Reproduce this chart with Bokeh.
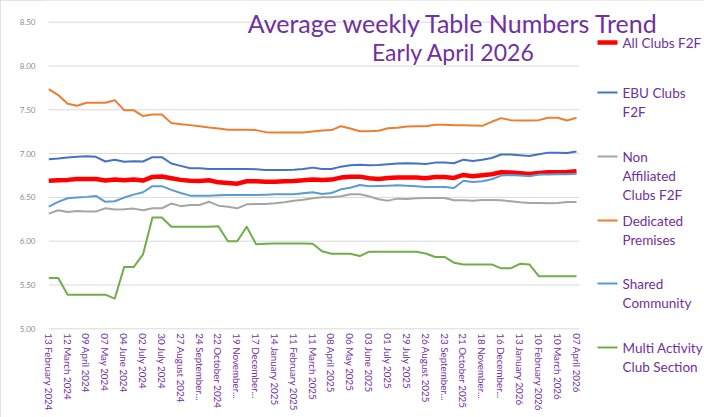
import math
from bokeh.plotting import figure
from bokeh.models import Range1d, FixedTicker, Label, BoxAnnotation, NumeralTickFormatter
from bokeh.core.properties import value
from bokeh.embed import file_html
from bokeh.resources import INLINE

# ---------------- data (fortnightly points, 13 Feb 2024 .. 07 Apr 2026) ----------------
tick_labels = ["13 February 2024", "12 March 2024", "09 April 2024", "07 May 2024", "04 June 2024",
               "02 July 2024", "30 July 2024", "27 August 2024", "24 September...", "22 October 2024",
               "19 November...", "17 December...", "14 January 2025", "11 February 2025", "11 March 2025",
               "08 April 2025", "06 May 2025", "03 June 2025", "01 July 2025", "29 July 2025",
               "26 August 2025", "23 September...", "21 October 2025", "18 November...", "16 December...",
               "13 January 2026", "10 February 2026", "10 March 2026", "07 April 2026"]

all_clubs = [6.689, 6.696, 6.700, 6.711, 6.711, 6.711, 6.692, 6.704, 6.696, 6.704, 6.692, 6.734, 6.738, 6.719, 6.700,
             6.691, 6.688, 6.695, 6.672, 6.665, 6.657, 6.684, 6.684, 6.680, 6.680, 6.684, 6.688, 6.695, 6.705,
             6.700, 6.703, 6.726, 6.737, 6.737, 6.718, 6.710, 6.722, 6.726, 6.726, 6.726, 6.718, 6.733, 6.733,
             6.722, 6.756, 6.741, 6.752, 6.764, 6.787, 6.783, 6.775, 6.768, 6.779, 6.787, 6.787, 6.790, 6.798]

ebu_clubs = [6.936, 6.944, 6.955, 6.963, 6.970, 6.963, 6.910, 6.930, 6.906, 6.913, 6.910, 6.959, 6.959, 6.887, 6.860,
             6.832, 6.832, 6.825, 6.825, 6.825, 6.825, 6.825, 6.820, 6.813, 6.813, 6.813, 6.815, 6.825, 6.840,
             6.825, 6.825, 6.851, 6.867, 6.874, 6.867, 6.870, 6.878, 6.886, 6.890, 6.886, 6.882, 6.897, 6.897,
             6.890, 6.931, 6.916, 6.931, 6.950, 6.989, 6.989, 6.981, 6.973, 6.992, 7.011, 7.011, 7.008, 7.023]

non_affiliated = [6.315, 6.353, 6.334, 6.345, 6.338, 6.338, 6.376, 6.361, 6.365, 6.372, 6.353, 6.376, 6.376, 6.430, 6.400,
                  6.413, 6.413, 6.451, 6.406, 6.394, 6.375, 6.421, 6.425, 6.425, 6.432, 6.444, 6.463, 6.474, 6.490,
                  6.501, 6.501, 6.512, 6.535, 6.535, 6.512, 6.478, 6.463, 6.486, 6.482, 6.490, 6.493, 6.493, 6.493,
                  6.467, 6.467, 6.463, 6.470, 6.470, 6.467, 6.455, 6.444, 6.436, 6.436, 6.432, 6.436, 6.448, 6.448]

dedicated = [7.736, 7.668, 7.569, 7.546, 7.580, 7.580, 7.580, 7.610, 7.496, 7.496, 7.428, 7.447, 7.447, 7.348, 7.336,
             7.325, 7.313, 7.298, 7.287, 7.271, 7.271, 7.271, 7.268, 7.245, 7.241, 7.241, 7.241, 7.241, 7.252,
             7.264, 7.268, 7.313, 7.287, 7.256, 7.256, 7.260, 7.290, 7.294, 7.310, 7.313, 7.313, 7.329, 7.329,
             7.325, 7.325, 7.321, 7.317, 7.363, 7.405, 7.382, 7.378, 7.378, 7.382, 7.409, 7.409, 7.378, 7.409]

shared = [6.395, 6.449, 6.490, 6.500, 6.506, 6.517, 6.449, 6.456, 6.498, 6.532, 6.559, 6.628, 6.628, 6.586, 6.550,
          6.520, 6.520, 6.520, 6.524, 6.528, 6.528, 6.528, 6.528, 6.531, 6.535, 6.535, 6.535, 6.547, 6.558,
          6.539, 6.550, 6.592, 6.611, 6.642, 6.627, 6.630, 6.634, 6.638, 6.634, 6.627, 6.619, 6.619, 6.619,
          6.608, 6.691, 6.676, 6.684, 6.707, 6.749, 6.756, 6.749, 6.741, 6.760, 6.760, 6.764, 6.764, 6.771]

multi_activity = [5.580, 5.580, 5.390, 5.390, 5.390, 5.390, 5.390, 5.345, 5.705, 5.705, 5.850, 6.270, 6.270, 6.165, 6.165,
                  6.165, 6.165, 6.165, 6.170, 6.000, 6.000, 6.165, 5.965, 5.970, 5.975, 5.975, 5.975, 5.975, 5.970,
                  5.885, 5.857, 5.857, 5.857, 5.830, 5.880, 5.880, 5.880, 5.880, 5.880, 5.880, 5.860, 5.820, 5.820,
                  5.755, 5.735, 5.735, 5.735, 5.735, 5.690, 5.690, 5.742, 5.735, 5.600, 5.600, 5.600, 5.600, 5.600]

series_names = [["All Clubs F2F"], ["EBU Clubs", "F2F"], ["Non", "Affiliated", "Clubs F2F"],
                ["Dedicated", "Premises"], ["Shared", "Community"], ["Multi Activity", "Club Section"]]
series_values = [all_clubs, ebu_clubs, non_affiliated, dedicated, shared, multi_activity]
series_colors = ["#FF0000", "#4472C4", "#A5A5A5", "#ED7D31", "#5B9BD5", "#70AD47"]
series_widths = [4.5, 2, 2, 2, 2, 2]

y_ticks = [5.0, 5.5, 6.0, 6.5, 7.0, 7.5, 8.0, 8.5]
title_lines = ["Average weekly Table Numbers Trend", "Early April 2026"]

x_idx = list(range(len(all_clubs)))
x_ticks = list(range(0, len(all_clubs), 2))

# ---------------- figure / pixel mapping ----------------
W, H = 704, 417
BL = 42
PXX = (576.0 - 48.3) / 56          # px per fortnight
PXY = (328.3 - 21.7) / 3.5         # px per table
X0 = (BL - 48.3) / PXX
X1 = X0 + (W - BL) / PXX
Y1 = 8.5 + 21.7 / PXY
Y0 = Y1 - H / PXY

p = figure(width=W, height=H, output_backend="svg", toolbar_location=None,
           x_range=Range1d(X0, X1), y_range=Range1d(Y0, Y1),
           min_border_left=BL, min_border_right=0, min_border_top=0, min_border_bottom=0,
           x_axis_location=None, styles={"outline": "1px solid #D9D9D9", "outline-offset": "-1px"})
p.background_fill_color = "white"
p.border_fill_color = "white"
p.outline_line_color = None
p.xgrid.visible = False
p.ygrid.visible = False


def fx(px):
    return X0 + (px - BL) / PXX


def fy(py):
    return Y1 - py / PXY


PURPLE = "#7030A0"
FONT = "Lato"

# y axis
p.yaxis.ticker = FixedTicker(ticks=y_ticks)
p.yaxis.formatter = NumeralTickFormatter(format="0.00")
p.yaxis.major_label_text_color = "#8C8C8C"
p.yaxis.major_label_text_font = FONT
p.yaxis.major_label_text_font_size = "8px"
p.yaxis.major_label_standoff = 1
p.yaxis.axis_line_color = None
p.yaxis.major_tick_line_color = None
p.yaxis.minor_tick_line_color = None

# horizontal grid lines limited to the plot area
p.segment(x0=[fx(48.3)] * len(y_ticks), x1=[fx(579)] * len(y_ticks), y0=y_ticks, y1=y_ticks,
          line_color="#D9D9D9", line_width=1)

# category (date) labels under the 5.00 line
p.text(x=x_ticks, y=[y_ticks[0]] * len(x_ticks), text=tick_labels, angle=-math.pi / 2,
       text_align="left", text_baseline="middle", y_offset=4.5,
       text_color=PURPLE, text_font=value(FONT), text_font_size="9.8px")

# series
for vals, col, lw in zip(series_values, series_colors, series_widths):
    p.line(x_idx, vals, line_color=col, line_width=lw, line_join="round")

# title
for t, py, fs in zip(title_lines, [22, 51], ["25px", "23px"]):
    p.add_layout(Label(x=fx(453), y=fy(py), text=t, text_align="center", text_baseline="middle",
                       text_color=PURPLE, text_font=FONT, text_font_size=fs))

# legend
entry_y = [42, 92, 156, 220, 283, 347]
for names, col, lw, ey in zip(series_names, series_colors, series_widths, entry_y):
    half = lw / 2
    p.add_layout(BoxAnnotation(left=fx(597), right=fx(617), top=fy(ey - half), bottom=fy(ey + half),
                               fill_color=col, fill_alpha=1.0, line_alpha=0))
    for k, nm in enumerate(names):
        p.add_layout(Label(x=fx(622), y=fy(ey + 19 * k), text=nm, text_align="left", text_baseline="middle",
                           text_color=PURPLE, text_font=FONT, text_font_size="13.5px"))

open("out.html", "w").write(file_html(p, INLINE))
